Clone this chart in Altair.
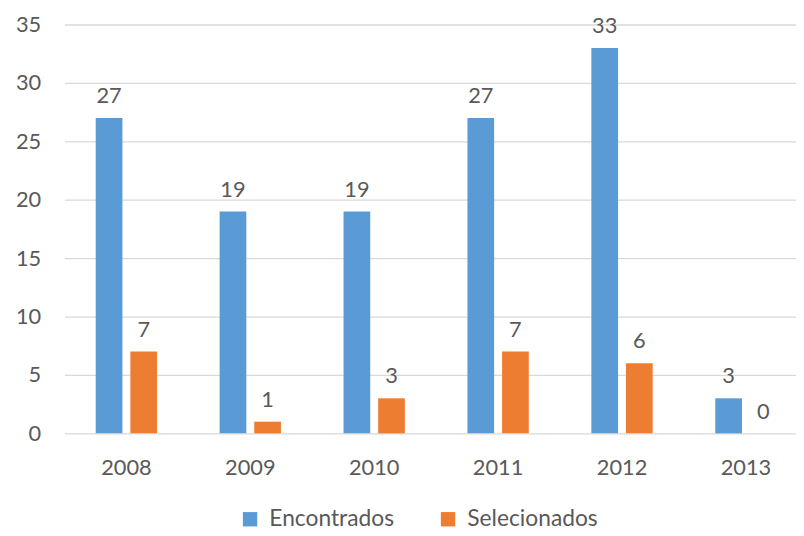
import altair as alt
import pandas as pd

years = ["2008", "2009", "2010", "2011", "2012", "2013"]
encontrados = [27, 19, 19, 27, 33, 3]
selecionados = [7, 1, 3, 7, 6, 0]
series = ["Encontrados", "Selecionados"]
colors = ["#5B9BD5", "#ED7D31"]

rows = []
for y, e, s in zip(years, encontrados, selecionados):
    rows.append({"ano": y, "serie": series[0], "valor": e})
    rows.append({"ano": y, "serie": series[1], "valor": s})
df = pd.DataFrame(rows)

FONT = "Lato"
GREY = "#595959"

base = alt.Chart(df).encode(
    x=alt.X(
        "ano:N",
        title=None,
        sort=years,
        scale=alt.Scale(paddingInner=0.505, paddingOuter=0.2525, range=[0, 751]),
        axis=alt.Axis(labelAngle=0, labelFontSize=22, labelColor=GREY, labelFont=FONT,
                      ticks=False, domain=False, labelPadding=25, grid=False),
    ),
    xOffset=alt.XOffset("serie:N", sort=series,
                        scale=alt.Scale(paddingInner=0.229, paddingOuter=0)),
    y=alt.Y(
        "valor:Q",
        title=None,
        scale=alt.Scale(domain=[0, 35], nice=False),
        axis=alt.Axis(values=[0, 5, 10, 15, 20, 25, 30, 35], labelFontSize=22,
                      labelColor=GREY, labelFont=FONT, ticks=False, domain=False,
                      labelPadding=24, gridColor="#D9D9D9", gridWidth=1.3),
    ),
)

bars = base.mark_bar().encode(
    color=alt.Color(
        "serie:N",
        sort=series,
        scale=alt.Scale(domain=series, range=colors),
        legend=alt.Legend(
            title=None, orient="none", direction="horizontal", legendX=176, legendY=488,
            symbolType="square", symbolSize=210, symbolStrokeWidth=0,
            labelFontSize=23, labelColor=GREY, labelFont=FONT, columnPadding=42,
            symbolOffset=0, labelOffset=8,
        ),
    )
)

labels = base.mark_text(baseline="bottom", dy=-10, fontSize=22, color=GREY, font=FONT).encode(
    text=alt.Text("valor:Q")
)

chart = (
    alt.layer(bars, labels)
    .properties(width=739, height=413,
                autosize=alt.AutoSizeParams(type="none"),
                padding={"left": 57, "top": 14, "right": 0, "bottom": 101})
    .configure_view(stroke=None)
)

chart.save("out.html", embed_options={"renderer": "svg", "actions": False})
